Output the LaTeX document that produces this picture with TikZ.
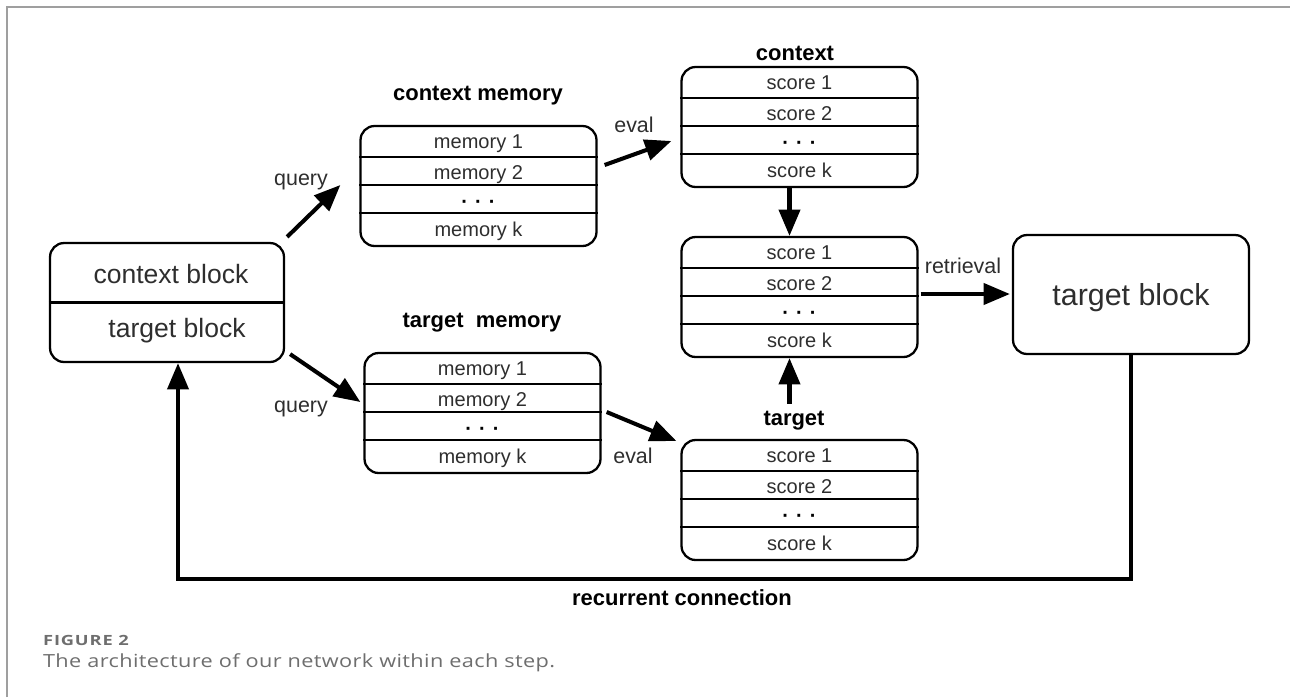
\documentclass[tikz,border=0pt]{standalone}
\usepackage{fontspec}
\setmainfont{Liberation Sans}
\newfontfamily\capfont[FakeStretch=1.2,LetterSpace=2]{Open Sans}
\newfontfamily\figfont[FakeStretch=1.3,LetterSpace=6]{Open Sans}
\usetikzlibrary{arrows.meta,calc}

\definecolor{txt}{HTML}{2E2E2E}
\definecolor{capgray}{HTML}{6E6E6E}

% a box of four score rows: name, centre x, centre y, word
\newcommand{\scorestack}[4]{%
  \node[box] (#1) at (#2,#3) {};
  \foreach \d in {32,60,88}
    \draw ($(#1.north west)+(0,\d)$) -- ($(#1.north east)+(0,\d)$);
  \node[row] (#1-1) at ($(#1.north)+(0,24)$) {#4 1};
  \node[row] (#1-2) at ($(#1.north)+(0,55)$) {#4 2};
  \node[row,text=black] (#1-3) at ($(#1.north)+(0,84)$) {\textbf{·}\hspace{4pt}\textbf{·}\hspace{4pt}\textbf{·}};
  \node[row] (#1-4) at ($(#1.north)+(0,112)$) {#4 k};
}

\begin{document}
\begin{tikzpicture}[x=0.02cm,y=-0.02cm,line width=1.3pt,
  box/.style={draw,rounded corners=8pt,minimum width=4.72cm,minimum height=2.4cm,inner sep=0pt},
  row/.style={anchor=base,inner sep=0pt,text=txt,font=\fontsize{11.4}{13}\selectfont},
  title/.style={anchor=base,inner sep=0pt,font=\fontsize{12.5}{14}\selectfont\bfseries},
  lbl/.style={anchor=base,inner sep=0pt,text=txt,font=\fontsize{12.2}{14}\selectfont},
  flow/.style={-{Triangle[length=15pt,width=12pt]},line width=2.3pt}]
  \useasboundingbox (0,0) rectangle (1290,697);
  % frame of the figure
  \draw[gray!75,line width=0.9pt] (7,697) -- (7,7) -- (1290,7);
  % input block
  \node[box,minimum height=2.38cm,minimum width=4.68cm] (inblk) at (167,302.5) {};
  \draw (inblk.west) -- (inblk.east);
  \node[lbl,font=\fontsize{15.1}{17}\selectfont] (ctxtxt) at (171,283) {context block};
  \node[lbl,font=\fontsize{15.1}{17}\selectfont] (tgttxt) at (177,337) {target block};
  % memories
  \scorestack{cmem}{478.5}{186}{memory}
  \scorestack{tmem}{482.5}{413}{memory}
  \node[title] (cmemttl) at (478,100) {context memory};
  \node[title] (tmemttl) at (482,327) {target\ \ memory};
  % scores
  \scorestack{cscore}{799.5}{127}{score}
  \scorestack{mscore}{799.5}{297}{score}
  \scorestack{tscore}{799.5}{500}{score}
  \node[title] (cscttl) at (795,60) {context};
  \node[title] (tscttl) at (794,425) {target};
  % output block
  \node[box,minimum width=4.72cm,minimum height=2.38cm] (outblk) at (1131,294.5) {};
  \node[lbl,font=\fontsize{17.3}{20}\selectfont] (outtxt) at (1131,305) {target block};
  % query and eval arrows
  \draw[flow] ($(inblk.north east)+(2,-5)$) -- ($(cmem.west)+(-19,-1)$);
  \node[lbl] (q1) at (301,185) {query};
  \draw[flow] ($(inblk.south east)+(5,-9)$) -- ($(tmem.west)+(-3,-11)$);
  \node[lbl] (q2) at (301,412) {query};
  \draw[flow] ($(cmem.east)+(7,-21)$) -- ($(cscore.west)+(-9,14)$);
  \node[lbl] (e1) at (634,132) {eval};
  \draw[flow] ($(tmem.east)+(5,-1)$) -- ($(tscore.west)+(-4,-59)$);
  \node[lbl] (e2) at (633,463) {eval};
  % merge of the two scores
  \draw[flow] ($(cscore.south)+(-10,0)$) -- ($(mscore.north)+(-10,0)$);
  \draw[flow] ($(tscore.north)+(-10,-35)$) -- ($(mscore.south)+(-10,0)$);
  \draw[flow] ($(mscore.east)+(2,-3)$) -- ($(outblk.west)+(-2,-0.5)$);
  \node[lbl] (ret) at (963,273) {retrieval};
  % recurrent connection
  \draw[flow] (outblk.south) -- ++(0,224) -| ($(inblk.south)+(11,0)$);
  \node[title] (rec) at (682,605) {recurrent connection};
  % caption
  \node[anchor=base west,inner sep=0pt,text=capgray,font=\figfont\fontsize{8}{10}\selectfont\bfseries] (fig) at (42,645) {FIGURE 2};
  \node[anchor=base west,inner sep=0pt,text=capgray,font=\capfont\fontsize{10.3}{12}\selectfont] (cap) at (42,667) {The architecture of our network within each step.};
\end{tikzpicture}
\end{document}
